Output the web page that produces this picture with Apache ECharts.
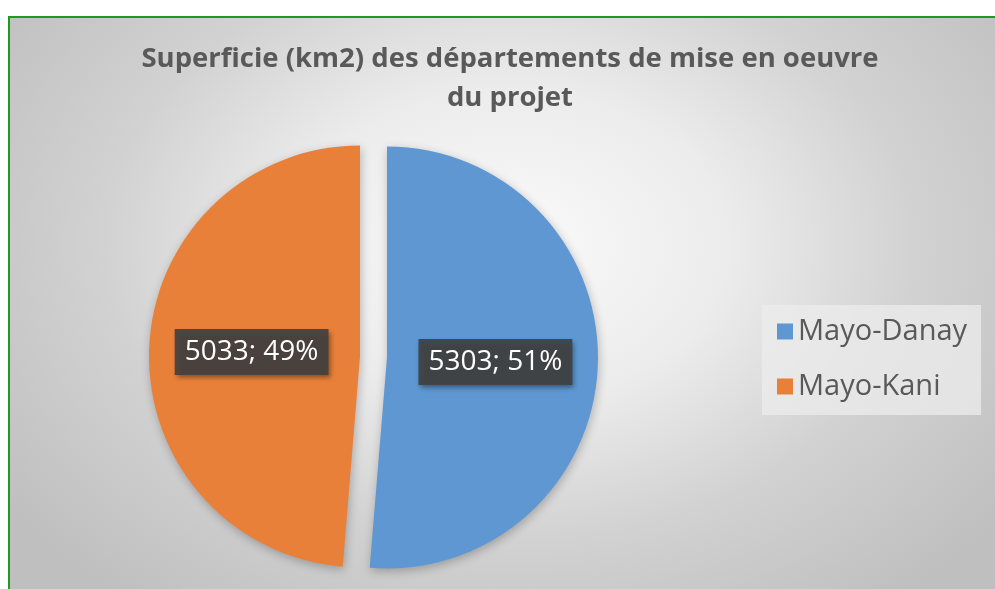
<!DOCTYPE html>
<html>
<head>
<meta charset="utf-8">
<script src="https://cdn.jsdelivr.net/npm/echarts@6/dist/echarts.min.js"></script>
<style>
  html, body { margin: 0; padding: 0; background: #ffffff; width: 995px; height: 589px; overflow: hidden; }
  #frame {
    position: absolute; left: 8px; top: 16px; width: 1000px; height: 600px;
    border-top: 2px solid #1f9a1f; border-left: 2px solid #1f9a1f;
    background: radial-gradient(ellipse 62% 75% at 50% 38%, #fafafa 0%, #ececec 35%, #d2d2d2 65%, #bfbfbf 100%);
  }
  #chart { position: absolute; left: 0; top: 0; width: 995px; height: 589px; }
</style>
</head>
<body>
<div id="frame"></div>
<div id="chart"></div>
<script>
const titleLines = ['Superficie (km2) des départements de mise en oeuvre', 'du projet'];
const categories = ['Mayo-Danay', 'Mayo-Kani'];
const values = [5303, 5033];
const colors = ['#5e97d1', '#e98039'];

const chart = echarts.init(document.getElementById('chart'), null, { renderer: 'canvas' });
chart.setOption({
  backgroundColor: 'transparent',
  animation: false,
  title: {
    text: titleLines.join('\n'),
    left: 505,
    top: 35,
    textAlign: 'center',
    textStyle: {
      fontFamily: 'Open Sans',
      fontWeight: 'bold',
      fontSize: 27.5,
      lineHeight: 39,
      color: '#595959'
    }
  },
  legend: {
    orient: 'vertical',
    left: 762,
    top: 305,
    padding: [11, 14, 13, 15],
    backgroundColor: 'rgba(236,236,236,0.75)',
    itemWidth: 16,
    itemHeight: 16,
    itemGap: 24,
    icon: 'rect',
    selectedMode: false,
    textStyle: {
      fontFamily: 'Open Sans',
      fontSize: 29,
      lineHeight: 31,
      color: '#595959'
    },
    data: categories
  },
  series: [{
    type: 'pie',
    center: [373.5, 357],
    radius: 211,
    startAngle: 90,
    clockwise: true,
    selectedMode: 'multiple',
    selectedOffset: 13.5,
    percentPrecision: 0,
    emphasis: { disabled: true },
    itemStyle: {
      shadowBlur: 10,
      shadowColor: 'rgba(0,0,0,0.25)',
      shadowOffsetX: 1,
      shadowOffsetY: 3
    },
    label: {
      show: true,
      position: 'inside',
      formatter: '{c}; {d}%',
      fontFamily: 'Open Sans',
      fontSize: 28,
      lineHeight: 34,
      color: '#ffffff',
      backgroundColor: 'rgba(64,64,64,0.9)',
      padding: [6, 10, 6, 10],
      shadowBlur: 5,
      shadowColor: 'rgba(0,0,0,0.45)',
      shadowOffsetX: 2,
      shadowOffsetY: 3
    },
    labelLine: { show: false },
    data: categories.map((name, i) => ({
      name: name,
      value: values[i],
      selected: true,
      itemStyle: { color: colors[i] }
    }))
  }]
});
</script>
</body>
</html>
